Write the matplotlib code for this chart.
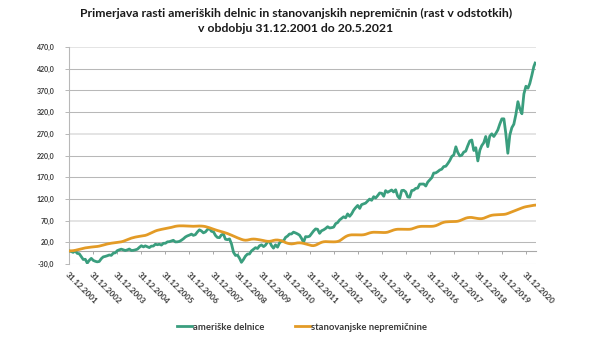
import matplotlib
matplotlib.use("Agg")
import matplotlib.pyplot as plt
import pandas as pd

plt.rcParams['font.family'] = ['Lato', 'DejaVu Sans']

title_lines = ["Primerjava rasti ameriških delnic in stanovanjskih nepremičnin (rast v odstotkih)",
               "v obdobju 31.12.2001 do 20.5.2021"]
series_names = ["ameriške delnice", "stanovanjske nepremičnine"]

# dates: 31.12.2001, month ends 2002..Apr 2021, 20.5.2021
dates = list(pd.date_range("2001-12-31", "2021-04-30", freq="ME")) + [pd.Timestamp("2021-05-20")]

stocks = [0.0,
    -1.4, -3.2, 0.4, -5.5, -6.3, -12.9, -19.6, -19.1, -27.9, -21.5, -17.0, -21.8,
    -23.8, -25.0, -24.2, -17.9, -13.6, -12.5, -11.0, -9.2, -10.1, -5.0, -4.2, 0.8,
    2.7, 4.2, 2.6, 1.1, 2.5, 4.5, 1.1, 1.5, 2.6, 4.2, 8.4, 12.1,
    9.4, 11.8, 9.8, 7.8, 11.2, 11.3, 15.5, 14.4, 15.5, 13.6, 17.7, 17.8,
    21.1, 21.4, 22.9, 24.6, 20.9, 21.1, 22.0, 24.8, 28.1, 32.3, 34.8, 36.6,
    38.8, 36.0, 37.6, 43.7, 48.7, 46.2, 41.8, 43.9, 49.3, 51.7, 45.3, 44.2,
    35.7, 31.2, 30.7, 37.1, 38.7, 27.1, 26.0, 27.8, 16.3, -3.2, -10.3, -9.5,
    -17.0, -26.1, -19.6, -11.9, -7.1, -6.9, 0.2, 3.8, 7.6, 5.7, 12.0, 14.1,
    10.1, 13.4, 20.3, 22.3, 12.4, 6.6, 14.1, 8.8, 18.6, 23.1, 23.1, 31.4,
    34.5, 39.1, 39.2, 43.4, 41.6, 39.4, 36.5, 29.0, 19.9, 33.1, 32.6, 34.0,
    40.0, 46.0, 50.8, 50.0, 40.7, 46.6, 48.7, 51.9, 55.9, 53.0, 53.7, 55.0,
    63.1, 65.3, 71.4, 74.9, 78.8, 76.3, 85.4, 79.9, 85.6, 94.2, 99.9, 104.9,
    98.1, 106.8, 108.6, 110.3, 115.2, 119.6, 116.7, 125.1, 122.0, 127.6, 133.6, 133.0,
    126.1, 139.0, 135.2, 137.7, 140.5, 135.9, 141.0, 126.2, 120.7, 139.3, 139.9, 136.1,
    124.5, 123.9, 139.2, 140.1, 144.3, 144.9, 154.1, 154.2, 154.3, 149.7, 158.8, 163.9,
    169.1, 179.5, 179.9, 182.8, 186.6, 188.4, 194.5, 195.2, 201.3, 208.5, 217.8, 221.4,
    240.0, 227.4, 219.1, 220.5, 227.9, 230.0, 242.5, 253.6, 255.6, 231.5, 238.0, 207.5,
    232.2, 242.6, 249.4, 263.8, 240.4, 264.5, 269.9, 263.8, 270.8, 279.0, 292.5, 304.4,
    304.5, 271.0, 225.2, 267.0, 284.2, 292.0, 314.3, 344.0, 327.3, 316.2, 361.8, 379.6,
    375.1, 386.0, 405.0, 425.0, 433.0]

housing = [0.0,
    0.3, 0.7, 1.5, 2.6, 3.9, 5.1, 6.2, 7.1, 7.8, 8.4, 9.0, 9.6,
    10.0, 10.4, 11.2, 12.3, 13.6, 14.9, 16.1, 17.1, 17.9, 18.6, 19.2, 19.8,
    20.4, 21.1, 22.4, 24.1, 26.0, 27.9, 29.6, 30.9, 32.0, 32.9, 33.7, 34.4,
    35.1, 35.9, 37.5, 39.6, 41.9, 44.1, 46.0, 47.6, 48.8, 49.8, 50.7, 51.5,
    52.3, 53.2, 54.4, 55.7, 56.8, 57.5, 57.9, 58.0, 57.9, 57.7, 57.5, 57.3,
    57.1, 56.9, 57.0, 57.3, 57.5, 57.4, 57.0, 56.2, 55.0, 53.5, 51.8, 50.2,
    48.6, 47.2, 45.9, 44.6, 43.2, 41.8, 40.2, 38.4, 36.4, 34.3, 32.2, 30.3,
    28.5, 26.8, 25.4, 24.8, 25.2, 26.3, 27.2, 27.5, 27.2, 26.6, 25.8, 25.0,
    24.0, 23.0, 22.3, 22.2, 23.0, 24.3, 25.2, 25.3, 24.6, 23.4, 21.6, 19.4,
    17.8, 16.8, 16.3, 16.8, 17.8, 18.6, 18.8, 18.4, 17.5, 16.2, 14.8, 13.5,
    12.5, 12.3, 13.4, 15.5, 18.0, 20.0, 21.2, 21.6, 21.5, 21.2, 21.0, 21.0,
    21.2, 21.8, 23.5, 26.5, 30.0, 33.0, 35.3, 36.6, 37.2, 37.3, 37.2, 37.1,
    37.0, 37.0, 37.4, 38.4, 40.0, 41.6, 42.7, 43.2, 43.2, 43.0, 42.8, 42.6,
    42.5, 42.6, 43.3, 44.8, 46.6, 48.3, 49.5, 50.1, 50.2, 50.1, 50.0, 49.9,
    49.9, 50.0, 50.8, 52.3, 54.0, 55.5, 56.4, 56.8, 56.9, 56.8, 56.7, 56.7,
    56.8, 57.2, 58.3, 60.1, 62.3, 64.5, 66.1, 67.0, 67.4, 67.6, 67.7, 67.8,
    68.0, 68.5, 69.8, 71.7, 73.8, 75.6, 76.8, 77.3, 77.2, 76.4, 75.6, 74.8,
    74.4, 74.5, 75.5, 77.3, 79.3, 81.0, 82.3, 83.0, 83.4, 83.6, 83.8, 84.0,
    84.3, 85.0, 86.5, 88.3, 90.2, 92.0, 93.8, 95.6, 97.4, 99.2, 100.8, 102.0,
    102.9, 103.8, 104.6, 105.3, 105.6]

year_ticks = pd.date_range("2001-12-31", "2020-12-31", freq="YE")
y_ticks = list(range(-30, 471, 50))

green = "#3A9E7E"
orange = "#E39B26"
grid_c = "#B8B8B8"
light_grid = "#E2E2E2"
text_c = "#3A3A3A"

W, H = 600, 347
fig = plt.figure(figsize=(W/100, H/100), dpi=100)
renderer = fig.canvas.get_renderer()

def size_for(s, target_px, weight='normal'):
    t = fig.text(0, 0, s, fontsize=10, fontweight=weight)
    w = t.get_window_extent(renderer).width
    t.remove()
    return 10 * target_px / w

ax = fig.add_axes([69.3/W, 1-264/H, (536-69.3)/W, (264-47)/H])

ax.plot(dates, stocks, color=green, lw=2.0, label=series_names[0], solid_joinstyle='round', zorder=3)
ax.plot(dates, housing, color=orange, lw=2.0, label=series_names[1], solid_joinstyle='round', zorder=3)

ax.set_ylim(-30, 470)
ax.set_xlim(pd.Timestamp("2001-12-31"), pd.Timestamp("2021-06-02"))

for s in ['top', 'right']:
    ax.spines[s].set_visible(False)
ax.spines['left'].set_color(grid_c)
ax.spines['left'].set_linewidth(0.8)
ax.spines['bottom'].set_position(('data', 0))
ax.spines['bottom'].set_color("#A8A8A8")
ax.spines['bottom'].set_linewidth(0.8)

# y axis
ylab_fs = size_for("470,0", 18, 'bold')
ax.set_yticks(y_ticks)
ax.set_yticklabels([f"{v:.1f}".replace(".", ",") for v in y_ticks])
ax.tick_params(axis='y', length=3.2, width=0.7, color=grid_c, pad=7.5,
               labelsize=ylab_fs, labelcolor=text_c)
for lab in ax.get_yticklabels():
    lab.set_fontweight('bold')
for v in y_ticks:
    light = v in (470, 270, 70)
    ax.axhline(v, color=light_grid if light else grid_c, lw=1.3 if light else 0.75, zorder=1)

# x axis
xlab_fs = size_for("31.12.2020", 42, 'bold')
ax.set_xticks(year_ticks)
ax.set_xticklabels([d.strftime("%d.%m.%Y") for d in year_ticks])
ax.tick_params(axis='x', length=2.2, width=0.7, color="#A8A8A8", pad=12,
               labelsize=xlab_fs, labelcolor=text_c)
for lab in ax.get_xticklabels():
    lab.set_rotation(-45)
    lab.set_ha('left')
    lab.set_va('top')
    lab.set_rotation_mode('anchor')
    lab.set_fontweight('bold')

# titles
t_fs = size_for(title_lines[0], 434, 'bold')
fig.text(296/W, 1-13.5/H, title_lines[0], ha='center', va='center', fontsize=t_fs,
         fontweight='bold', color="#1a1a1a")
fig.text(296/W, 1-29.0/H, title_lines[1], ha='center', va='center', fontsize=t_fs,
         fontweight='bold', color="#1a1a1a")

# legend
leg_fs = size_for(series_names[0], 71, 'bold')
px_per_em = leg_fs * 100 / 72
fig.legend(loc='center', bbox_to_anchor=(302/W, 1-327/H), ncol=2, frameon=False,
           prop={'size': leg_fs, 'weight': 'bold'}, handlelength=15/px_per_em,
           handletextpad=1.5/px_per_em, columnspacing=30/px_per_em, labelcolor=text_c)

fig.savefig("out.png", dpi=100, facecolor='white')
